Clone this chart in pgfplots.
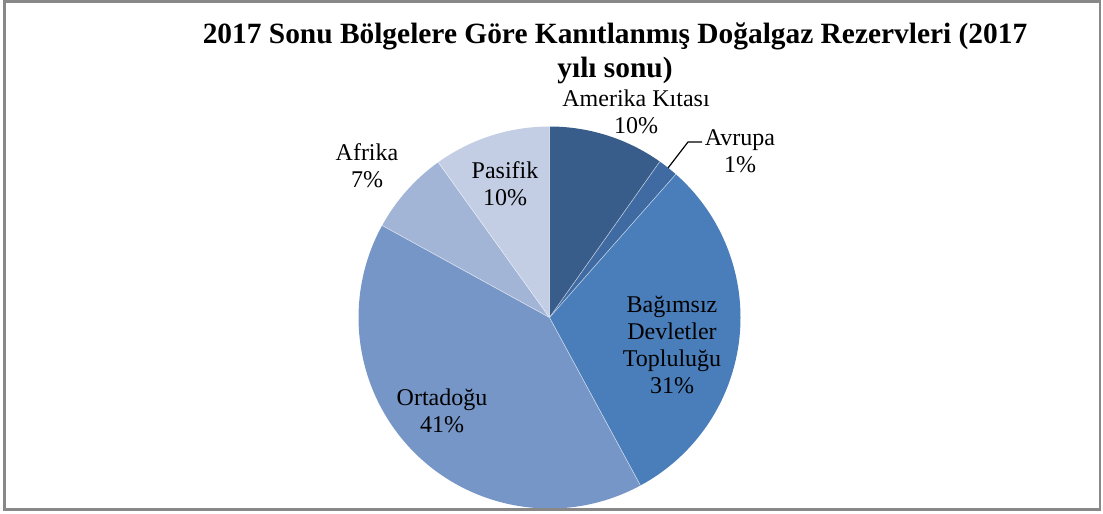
\documentclass[border=0pt]{standalone}
\usepackage{fontspec}
\setmainfont{Liberation Serif}
\usepackage{pgfplots}
\usepackage{pgfplotstable}
\pgfplotsset{compat=1.18}
\definecolor{c1}{RGB}{56,93,138}
\definecolor{c2}{RGB}{63,106,162}
\definecolor{c3}{RGB}{74,126,187}
\definecolor{c4}{RGB}{118,150,199}
\definecolor{c5}{RGB}{162,181,214}
\definecolor{c6}{RGB}{195,206,228}
\definecolor{frame}{RGB}{136,136,136}
\pgfplotstableread{
region value col
Amerika 9.8 c1
Avrupa 1.7 c2
BDT 30.6 c3
Ortadogu 40.9 c4
Afrika 7.1 c5
Pasifik 9.9 c6
}\pietable
\begin{document}
\begin{tikzpicture}
\useasboundingbox (0,0) rectangle (551.5pt,257pt);
\begin{axis}[
  at={(0,0)}, anchor=south west,
  width=551.5pt, height=257pt, scale only axis,
  xmin=0, xmax=1103, ymin=0, ymax=514, y dir=reverse,
  hide axis, clip=false,
]
\pgfplotsextra{%
  \gdef\cum{0}%
  \foreach \i in {0,...,5}{%
    \pgfplotstablegetelem{\i}{value}\of\pietable
    \let\v\pgfplotsretval
    \pgfplotstablegetelem{\i}{col}\of\pietable
    \let\c\pgfplotsretval
    \pgfmathsetmacro\a{90-3.6*\cum}%
    \pgfmathsetmacro\b{90-3.6*(\cum+\v)}%
    \fill[\c] (axis cs:549.5,317.5) -- ++(\a:95.5pt) arc[start angle=\a, end angle=\b, radius=95.5pt] -- cycle;
    \draw[white, line width=0.3pt, opacity=0.6] (axis cs:549.5,317.5) -- ++(\a:95.5pt);
    \pgfmathsetmacro\n{\cum+\v}%
    \xdef\cum{\n}%
  }%
  \draw[frame, line width=1.2pt] (axis cs:4.5,1.5) rectangle (axis cs:1100,509.5);
  \draw[black, line width=0.6pt] (axis cs:668,168) -- (axis cs:688,142) -- (axis cs:702,142);
}
\node[font=\bfseries\fontsize{14.7pt}{17pt}\selectfont, align=center] at (axis cs:615,53) {2017 Sonu Bölgelere Göre Kanıtlanmış Doğalgaz Rezervleri (2017\\yılı sonu)};
\tikzset{lbl/.style={font=\fontsize{12pt}{13.6pt}\selectfont, align=center, inner sep=0pt}}
\node[lbl] at (axis cs:636,112) {Amerika Kıtası\\10\%};
\node[lbl] at (axis cs:740,151) {Avrupa\\1\%};
\node[lbl] at (axis cs:367,166) {Afrika\\7\%};
\node[lbl] at (axis cs:505,184) {Pasifik\\10\%};
\node[lbl] at (axis cs:672,345) {Bağımsız\\Devletler\\Topluluğu\\31\%};
\node[lbl] at (axis cs:442,411) {Ortadoğu\\41\%};
\end{axis}
\end{tikzpicture}
\end{document}
